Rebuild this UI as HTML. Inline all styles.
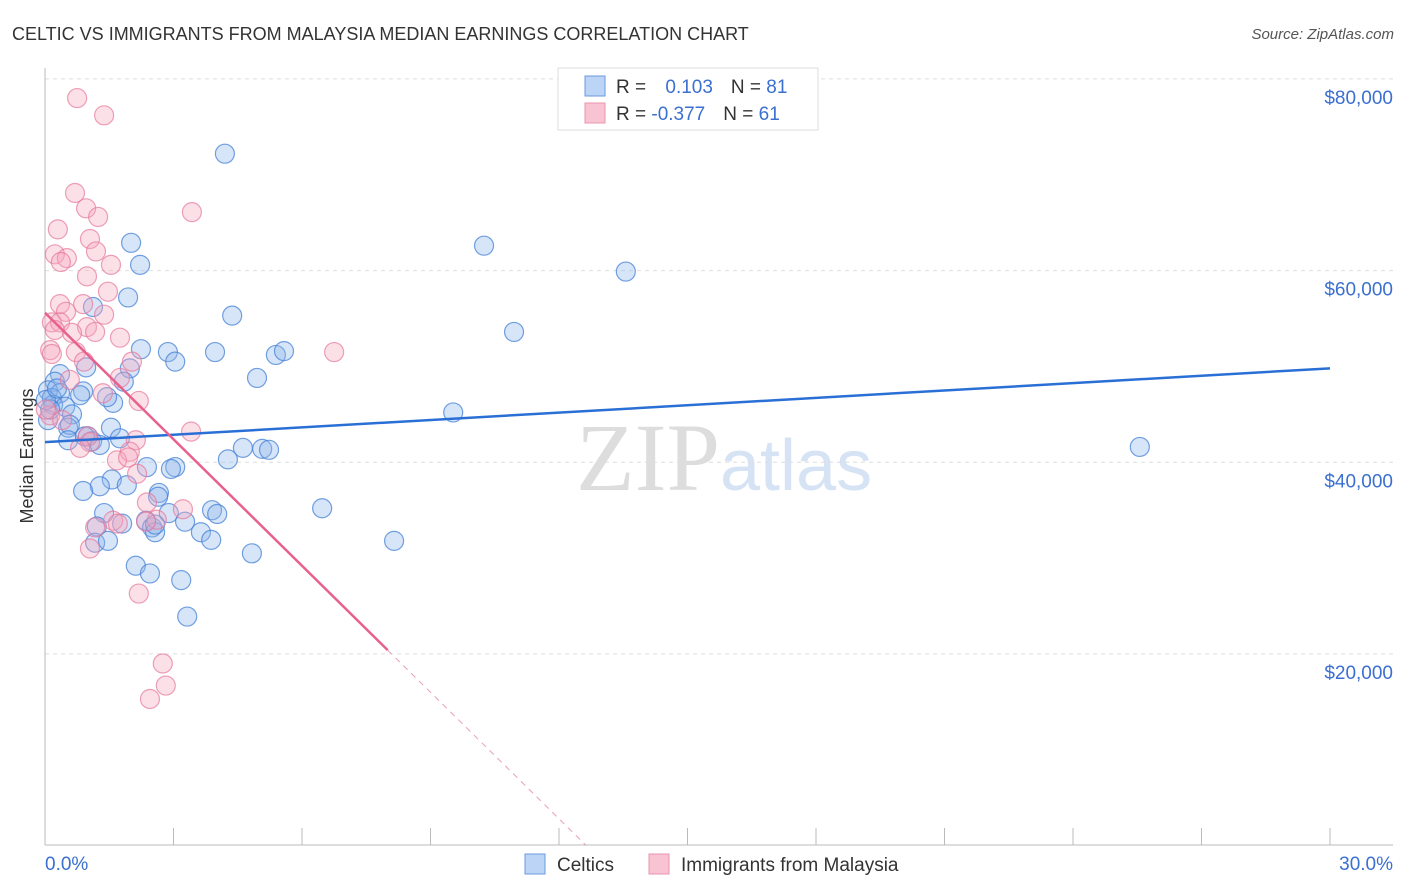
<!DOCTYPE html>
<html><head><meta charset="utf-8"><style>
body{margin:0;background:#fff;font-family:"Liberation Sans",sans-serif}
svg{display:block}
</style></head><body>
<svg width="1406" height="892" xmlns="http://www.w3.org/2000/svg">
<text x="12" y="40" font-size="18" fill="#333">CELTIC VS IMMIGRANTS FROM MALAYSIA MEDIAN EARNINGS CORRELATION CHART</text>
<text x="1394" y="39" font-size="15" fill="#555" font-style="italic" text-anchor="end">Source: ZipAtlas.com</text>
<text x="0" y="0" transform="translate(33,456) rotate(-90)" font-size="18" fill="#333" text-anchor="middle">Median Earnings</text>
<text x="720" y="490" font-size="96" font-family="Liberation Serif,serif" fill="#ddd" text-anchor="end">ZIP</text>
<text x="720" y="490" font-size="72" fill="#d6e3f5">atlas</text>
<g id="grid"></g><g id="axes"></g><g id="pts"></g><g id="trend"></g>
<g>
<rect x="558" y="68" width="260" height="62" fill="#fff" stroke="#ddd"/>
<rect x="585" y="76" width="20" height="20" fill="#bcd4f5" stroke="#6b9ae0"/>
<rect x="585" y="103" width="20" height="20" fill="#f8c4d4" stroke="#ea94ae"/>
<text x="616" y="93" font-size="19" fill="#333">R = <tspan fill="#3b6fd0" dx="14">0.103</tspan><tspan dx="18">N = </tspan><tspan fill="#3b6fd0">81</tspan></text>
<text x="616" y="120" font-size="19" fill="#333">R = <tspan fill="#3b6fd0">-0.377</tspan><tspan dx="18">N = </tspan><tspan fill="#3b6fd0">61</tspan></text>
</g>
<g>
<rect x="525" y="854" width="20" height="20" fill="#bcd4f5" stroke="#6b9ae0"/>
<text x="557" y="871" font-size="19" fill="#333">Celtics</text>
<rect x="649" y="854" width="20" height="20" fill="#f8c4d4" stroke="#ea94ae"/>
<text x="681" y="871" font-size="19" fill="#333">Immigrants from Malaysia</text>
</g>
</svg>
<script>
const yTicks=[20000,40000,60000,80000];
const yTickLabels=["$20,000","$40,000","$60,000","$80,000"];
const xTickVals=[0,3,6,9,12,15,18,21,24,27,30];
const celticsX=[4.20,2.01,2.22,10.25,13.56,1.94,1.12,4.37,10.95,2.24,2.87,3.97,3.04,5.39,5.58,4.95,1.98,0.96,1.84,0.35,0.23,0.07,0.35,0.16,0.89,1.59,0.19,0.47,1.45,0.63,9.53,0.54,0.58,1.54,1.00,1.75,0.54,1.10,4.62,5.07,5.23,4.27,25.56,2.38,3.04,2.94,1.56,1.91,1.28,0.89,2.66,2.64,6.47,3.90,4.02,2.89,1.38,3.27,2.36,1.80,1.21,2.50,2.57,3.64,3.88,8.15,1.17,1.47,4.83,2.12,2.45,3.18,3.32,0.07,0.12,0.02,0.28,0.82,0.93,1.28,2.57];
const celticsY=[72200,62900,60600,62600,59900,57200,56200,55300,53600,51800,51500,51500,50500,51200,51600,48800,49800,49900,48400,49200,48400,47500,47200,46700,47400,46200,46000,45800,46800,45000,45200,43600,43900,43600,42700,42500,42300,42200,41500,41400,41300,40300,41600,39500,39500,39300,38200,37600,37500,37000,36800,36400,35200,35000,34600,34700,34700,33800,33900,33600,33300,33200,32700,32700,31900,31800,31600,31800,30500,29200,28400,27700,23900,44400,45500,46500,47700,47000,42700,41800,33500];
const malX=[0.75,1.38,0.70,3.43,0.96,1.24,0.30,1.05,1.19,0.23,0.51,0.37,1.54,0.98,1.47,0.35,0.89,0.49,1.38,0.16,0.35,0.98,0.63,1.17,1.75,0.12,0.16,0.72,6.75,2.03,0.91,1.75,0.58,1.35,2.19,0.12,0.40,1.00,1.05,3.41,2.12,0.82,1.98,1.68,1.94,2.15,2.38,3.22,2.61,2.36,1.59,1.17,1.70,1.05,2.19,2.75,2.82,2.45,0.23,0.02];
const malY=[78000,76200,68100,66100,66500,65600,64300,63300,62000,61700,61300,60900,60600,59400,57800,56500,56500,55700,55400,54600,54600,54100,53500,53600,53000,51700,51300,51500,51500,50500,50500,48800,48600,47200,46400,44900,44400,42700,42100,43200,42300,41500,41100,40200,40500,38800,35800,35100,34000,33800,33900,33200,33600,31000,26300,19000,16700,15300,53800,45500];
const celticsTrend=[42100,49800]; // y at x=0 and x=30
const malTrend=[55600,-4400]; // intercept, slope per %
const malSolidEnd=8.0;
const NS="http://www.w3.org/2000/svg";
const X=v=>45+v/30*1285;
const Y=v=>845.6-v/20000*191.67;
function mk(t,a,p){const e=document.createElementNS(NS,t);for(const k in a)e.setAttribute(k,a[k]);p.appendChild(e);return e;}
const grid=document.getElementById('grid'),axes=document.getElementById('axes'),pts=document.getElementById('pts'),tr=document.getElementById('trend');
yTicks.forEach((t,i)=>{
 const l=mk('line',{x1:45,x2:1393,y1:Y(t),y2:Y(t),stroke:'#ddd','stroke-dasharray':'4,4'},grid);
 
 
 const tx=mk('text',{x:1393,y:Y(t)+25,'font-size':19,fill:'#3b6fd0','text-anchor':'end'},grid);
 tx.textContent=yTickLabels[i];
 
 
});
let a=mk('line',{x1:45,x2:45,y1:68,y2:845,stroke:'#bbb'},axes);


a=mk('line',{x1:45,x2:1393,y1:845,y2:845,stroke:'#bbb'},axes);


xTickVals.forEach(v=>{
 const t=mk('line',{x1:X(v),x2:X(v),y1:828,y2:845,stroke:'#bbb'},axes);
 
 
});
let t0=mk('text',{x:45,y:870,'font-size':19,fill:'#3b6fd0'},axes);t0.textContent='0.0%';


t0=mk('text',{x:1393,y:870,'font-size':19,fill:'#3b6fd0','text-anchor':'end'},axes);t0.textContent='30.0%';


celticsX.forEach((x,i)=>{
 const c=mk('circle',{cx:X(x),cy:Y(celticsY[i]),r:9.5,fill:'rgba(140,180,235,0.35)',stroke:'rgba(70,130,215,0.75)','stroke-width':1.2},pts);
 
 
});
malX.forEach((x,i)=>{
 const c=mk('circle',{cx:X(x),cy:Y(malY[i]),r:9.5,fill:'rgba(245,165,190,0.35)',stroke:'rgba(230,120,155,0.7)','stroke-width':1.2},pts);
 
 
});
let l=mk('line',{x1:X(0),y1:Y(celticsTrend[0]),x2:X(30),y2:Y(celticsTrend[1]),stroke:'#2a6fd6','stroke-width':2.5},tr);


const my=x=>malTrend[0]+malTrend[1]*x;
l=mk('line',{x1:X(0),y1:Y(my(0)),x2:X(malSolidEnd),y2:Y(my(malSolidEnd)),stroke:'#e8608c','stroke-width':2.5},tr);


const xz=-malTrend[0]/malTrend[1];
l=mk('line',{x1:X(malSolidEnd),y1:Y(my(malSolidEnd)),x2:X(xz),y2:Y(0),stroke:'#e8a0b8','stroke-width':1,'stroke-dasharray':'6,5'},tr);


</script>
</body></html>
